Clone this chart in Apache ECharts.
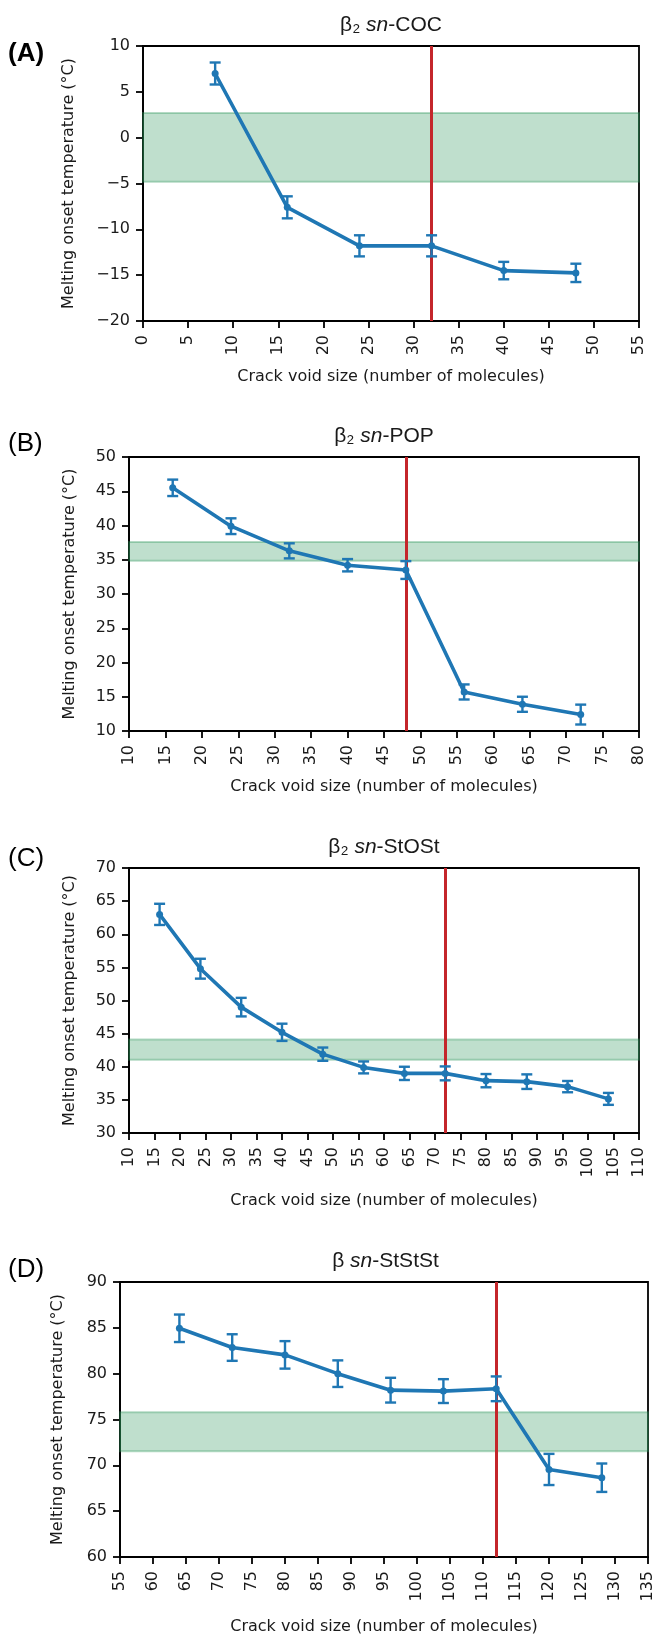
<!DOCTYPE html>
<html>
<head>
<meta charset="utf-8">
<script src="https://cdn.jsdelivr.net/npm/echarts@6/dist/echarts.min.js"></script>
<style>
  html, body { margin: 0; padding: 0; background: #fff; }
  #chart { width: 656px; height: 1637px; }
</style>
</head>
<body>
<div id="chart"></div>
<script>
// ---------------- DATA ----------------
const xA = [8, 16, 24, 32, 40, 48];
const yA = [7.0, -7.6, -11.8, -11.8, -14.5, -14.75];
const errA = [1.2, 1.2, 1.15, 1.15, 0.95, 1.0];
const bandA = [-4.8, 2.7];
const redA = 32;
const xRangeA = [0, 55];
const yRangeA = [-20, 10];

const xB = [16, 24, 32, 40, 48, 56, 64, 72];
const yB = [45.5, 39.9, 36.3, 34.2, 33.5, 15.7, 13.9, 12.4];
const errB = [1.2, 1.15, 1.1, 0.9, 1.3, 1.1, 1.1, 1.45];
const bandB = [34.85, 37.6];
const redB = 48;
const xRangeB = [10, 80];
const yRangeB = [10, 50];

const xC = [16, 24, 32, 40, 48, 56, 64, 72, 80, 88, 96, 104];
const yC = [63.0, 54.8, 49.0, 45.2, 41.9, 39.9, 39.0, 39.0, 37.9, 37.75, 37.0, 35.15];
const errC = [1.6, 1.5, 1.4, 1.3, 1.0, 0.9, 1.0, 1.05, 1.0, 1.1, 0.85, 0.9];
const bandC = [41.05, 44.1];
const redC = 72;
const xRangeC = [10, 110];
const yRangeC = [30, 70];

const xD = [64, 72, 80, 88, 96, 104, 112, 120, 128];
const yD = [84.95, 82.85, 82.05, 80.0, 78.2, 78.1, 78.35, 69.55, 68.65];
const errD = [1.5, 1.45, 1.5, 1.45, 1.35, 1.3, 1.35, 1.7, 1.55];
const bandD = [71.55, 75.8];
const redD = 112;
const xRangeD = [55, 135];
const yRangeD = [60, 90];

const tickStep = 5;
const panelLabels = ['(A)', '(B)', '(C)', '(D)'];
const titleParts = [['β₂ ', 'sn', '-COC'], ['β₂ ', 'sn', '-POP'], ['β₂ ', 'sn', '-StOSt'], ['β ', 'sn', '-StStSt']];
const xName = 'Crack void size (number of molecules)';
const yName = 'Melting onset temperature (°C)';

// ---------------- LAYOUT / STYLE ----------------
const FONT = "'DejaVu Sans', sans-serif";
const TFONT = "'Liberation Sans', Arial, sans-serif";
const BLUE = '#1f77b4';
const RED = '#c4262b';
const TXT = '#1a1a1a';
const FS = 16;

const panels = [
  { x: xA, y: yA, e: errA, band: bandA, red: redA, xr: xRangeA, yr: yRangeA,
    grid: { left: 143, right: 17, top: 46, height: 275 }, xGap: 48, yGap: 66, labelY: 54, bold: true },
  { x: xB, y: yB, e: errB, band: bandB, red: redB, xr: xRangeB, yr: yRangeB,
    grid: { left: 129, right: 17, top: 457, height: 274 }, xGap: 48, yGap: 51, labelY: 444, bold: false },
  { x: xC, y: yC, e: errC, band: bandC, red: redC, xr: xRangeC, yr: yRangeC,
    grid: { left: 129, right: 17, top: 868, height: 265 }, xGap: 60, yGap: 51, labelY: 859, bold: false },
  { x: xD, y: yD, e: errD, band: bandD, red: redD, xr: xRangeD, yr: yRangeD,
    grid: { left: 120, right: 5, top: 1282, height: 275 }, xGap: 62, yGap: 54, labelY: 1270, bold: false }
];

const fmt = v => (v < 0 ? '\u2212' + (-v) : String(v));

const grids = [], xAxes = [], yAxes = [], series = [], graphics = [];

panels.forEach((p, i) => {
  grids.push(Object.assign({ show: true, borderColor: '#000', borderWidth: 1.8, backgroundColor: 'transparent' }, p.grid));
  const axisCommon = {
    gridIndex: i, type: 'value', interval: tickStep,
    axisLine: { show: true, onZero: false, lineStyle: { color: '#000', width: 1.8 } },
    axisTick: { show: true, length: 7, lineStyle: { color: '#000', width: 1.8 } },
    splitLine: { show: false },
    nameLocation: 'middle',
    nameTextStyle: { fontFamily: FONT, fontSize: FS, color: TXT }
  };
  xAxes.push(Object.assign({}, axisCommon, {
    min: p.xr[0], max: p.xr[1],
    name: xName, nameGap: p.xGap,
    axisLabel: { rotate: 90, margin: 14, fontFamily: FONT, fontSize: FS, color: TXT, formatter: fmt }
  }));
  yAxes.push(Object.assign({}, axisCommon, {
    min: p.yr[0], max: p.yr[1],
    name: yName, nameGap: p.yGap,
    axisLabel: { margin: 13, fontFamily: FONT, fontSize: FS, color: TXT, formatter: fmt }
  }));

  // band + red vertical line
  series.push({
    type: 'line', xAxisIndex: i, yAxisIndex: i, data: [], silent: true, z: 1,
    markArea: {
      silent: true,
      itemStyle: { color: 'rgba(44,150,90,0.30)', borderColor: 'rgba(44,150,90,0.35)', borderWidth: 2 },
      data: [[{ yAxis: p.band[0] }, { yAxis: p.band[1] }]]
    },
    markLine: {
      silent: true, symbol: ['none', 'none'], label: { show: false },
      lineStyle: { color: RED, width: 3, type: 'solid' },
      data: [{ xAxis: p.red }]
    }
  });

  // main line
  series.push({
    type: 'line', xAxisIndex: i, yAxisIndex: i, z: 5,
    data: p.x.map((v, k) => [v, p.y[k]]),
    symbol: 'circle', symbolSize: 7, showSymbol: true,
    lineStyle: { color: BLUE, width: 3.6 },
    itemStyle: { color: BLUE },
    silent: true
  });

  // error bars
  series.push({
    type: 'custom', xAxisIndex: i, yAxisIndex: i, z: 6, silent: true,
    data: p.x.map((v, k) => [v, p.y[k], p.e[k]]),
    encode: { x: 0, y: 1 },
    renderItem: (params, api) => {
      const xv = api.value(0), yv = api.value(1), ev = api.value(2);
      const t = api.coord([xv, yv + ev]);
      const b = api.coord([xv, yv - ev]);
      const hw = 5.5;
      const st = { stroke: BLUE, lineWidth: 2.4 };
      return {
        type: 'group',
        children: [
          { type: 'line', shape: { x1: t[0], y1: t[1], x2: b[0], y2: b[1] }, style: st },
          { type: 'line', shape: { x1: t[0] - hw, y1: t[1], x2: t[0] + hw, y2: t[1] }, style: st },
          { type: 'line', shape: { x1: b[0] - hw, y1: b[1], x2: b[0] + hw, y2: b[1] }, style: st }
        ]
      };
    }
  });

  // title
  const cx = p.grid.left + (656 - p.grid.left - p.grid.right) / 2;
  const tp = titleParts[i];
  graphics.push({
    type: 'text', x: cx, y: p.grid.top - 21,
    style: {
      text: '{n|' + tp[0] + '}{i|' + tp[1] + '}{n|' + tp[2] + '}',
      align: 'center', verticalAlign: 'middle',
      rich: {
        n: { fontFamily: TFONT, fontSize: 21, fill: TXT, color: TXT },
        i: { fontFamily: TFONT, fontSize: 21, fontStyle: 'italic', fill: TXT, color: TXT }
      }
    }
  });
  // panel label
  graphics.push({
    type: 'text', x: 8, y: p.labelY,
    style: {
      text: panelLabels[i], align: 'left', verticalAlign: 'middle',
      font: (p.bold ? 'bold ' : '') + '26px ' + TFONT, fill: '#000'
    }
  });
});

const chart = echarts.init(document.getElementById('chart'), null, { renderer: 'canvas' });
chart.setOption({
  animation: false,
  backgroundColor: '#fff',
  grid: grids,
  xAxis: xAxes,
  yAxis: yAxes,
  series: series,
  graphic: graphics
});
</script>
</body>
</html>
